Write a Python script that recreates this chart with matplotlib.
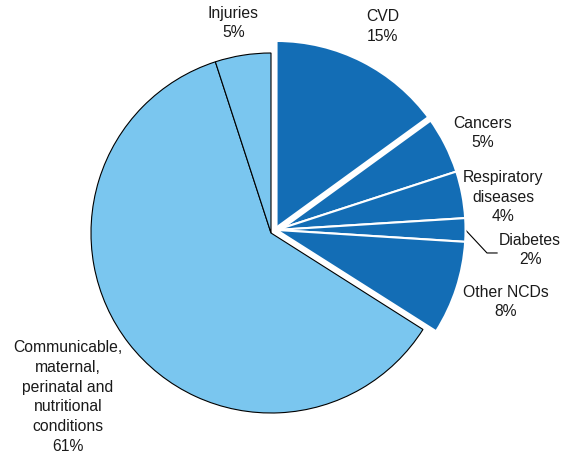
import numpy as np
import matplotlib
matplotlib.use("Agg")
import matplotlib.pyplot as plt

# data
labels = ["CVD", "Cancers", "Respiratory\ndiseases", "Diabetes", "Other NCDs",
          "Communicable,\nmaternal,\nperinatal and\nnutritional\nconditions", "Injuries"]
shares = [15, 5, 4, 2, 8, 61, 5]
is_ncd = [True, True, True, True, True, False, False]

# label centres in axes data units (pie radius = 1)
label_pos = [(0.62, 1.145), (1.178, 0.556), (1.289, 0.20), (1.44, -0.094),
             (1.306, -0.383), (-1.128, -0.911), (-0.21, 1.167)]

dark = "#136db5"
light = "#7ac6ef"

plt.rcParams['font.family'] = ['Liberation Sans', 'DejaVu Sans']

fig = plt.figure(figsize=(5.68, 4.61), dpi=100)
ax = fig.add_axes([0, 0, 1, 1])

colors = [dark if n else light for n in is_ncd]
wedges, _ = ax.pie(shares, colors=colors, startangle=90, counterclock=False,
                   wedgeprops=dict(edgecolor="black", linewidth=0.8))

# NCD slices shifted together as a group, a bit larger and with white gaps
ncd_total = sum(s for s, n in zip(shares, is_ncd) if n)
mid = np.deg2rad(90 - 360 * ncd_total / 100 / 2)
shift = 0.035
gc = (shift * np.cos(mid), shift * np.sin(mid))
R = 1.05
for w, n in zip(wedges, is_ncd):
    if n:
        w.set_center(gc)
        w.set_radius(R)
        w.set_edgecolor("white")
        w.set_linewidth(1.5)
        w.set_zorder(3)

# wider gap between CVD and Cancers
a = np.deg2rad(wedges[0].theta1)
ax.plot([gc[0], gc[0] + R * 1.01 * np.cos(a)], [gc[1], gc[1] + R * 1.01 * np.sin(a)],
        color="white", lw=4.5, zorder=4, solid_capstyle="butt")

for lab, s, (x, y) in zip(labels, shares, label_pos):
    ax.text(x, y, f"{lab}\n{s}%", ha="center", va="center", fontsize=11.3,
            linespacing=1.4, color="#1a1a1a")

# leader line for Diabetes
w = wedges[3]
a = np.deg2rad((w.theta1 + w.theta2) / 2)
x0, y0 = gc[0] + R * np.cos(a), gc[1] + R * np.sin(a)
ax.plot([x0, 1.2, 1.256], [y0, -0.111, -0.111], color="black", lw=0.8)

ax.set_aspect("auto")
ax.set_xlim(-271 / 180, (568 - 271) / 180)
ax.set_ylim(-(461 - 233) / 180, 233 / 180)
ax.axis("off")

fig.savefig("out.png", dpi=100)
